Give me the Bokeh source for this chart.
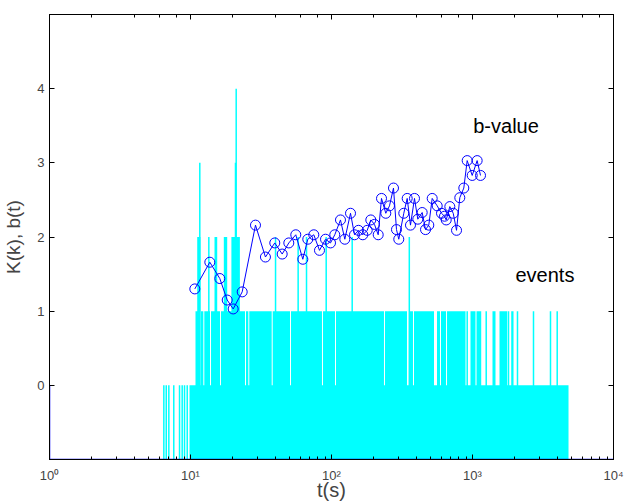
from bokeh.plotting import figure
from bokeh.models import LogAxis, LinearAxis, FixedTicker, LogTicker, CustomJSTickFormatter
from bokeh.core.properties import value
from bokeh.embed import file_html
from bokeh.resources import INLINE

# ---------------- data ----------------
# b-value series (time in s, b-value)
b_t = [10.73, 13.71, 16.14, 18.21, 20.08, 23.26, 28.9, 34.0, 39.6, 44.7,
       49.8, 55.8, 62.6, 67.9, 74.9, 82.2, 90.7, 98.4, 105.5, 115.8,
       124.3, 136.4, 145.6, 155.4, 166.7, 179.2, 190.0, 201.8, 214.4, 226.3,
       242.7, 257.8, 275.2, 289.0, 300.0,
       325.6, 344.2, 363.2, 387.8, 409.3, 439.7, 464.3, 489.8, 517.8, 561.9,
       602.7, 632.9, 651.0, 690.4, 729.9, 770.4, 812.7, 867.6, 916.7, 995.2,
       1079.0, 1139.8]
b_val = [1.30, 1.66, 1.44, 1.15, 1.03, 1.26, 2.16, 1.73, 1.92, 1.77,
         1.92, 2.03, 1.70, 1.97, 2.03, 1.82, 1.97, 1.92, 2.03, 2.23,
         1.97, 2.32, 2.03, 2.09, 2.03, 2.09, 2.23, 2.17, 2.03, 2.52,
         2.32, 2.42, 2.66, 2.10, 1.97,
         2.32, 2.52, 2.16, 2.52, 2.24, 2.33, 2.10, 2.16, 2.52, 2.42,
         2.32, 2.28, 2.23, 2.41, 2.32, 2.09, 2.53, 2.66, 3.03, 2.83,
         3.03, 2.83]

# events: densely packed runs of event lines (start time, end time, class K)
band_start = [9.84,
              10.85, 11.87, 12.53, 13.98, 16.45, 24.75, 26.12, 38.28, 51.62, 87.0,
              107.6, 239.5, 354.4, 384.6, 560.0, 597.8, 659.6, 967.8, 1068.0,
              1386.0, 1554.0, 1882.0,
              11.16, 14.80, 17.23, 19.5]
band_end = [4797.0,
            11.68, 12.33, 13.75, 16.19, 24.35, 25.70, 37.66, 50.78, 85.6, 105.9,
            235.6, 343.1, 378.4, 533.3, 588.2, 648.9, 892.2, 1050.0, 1153.0,
            1456.0, 1762.0, 1954.0,
            11.77, 15.47, 18.21, 22.4]
band_k = [0,
          1, 1, 1, 1, 1, 1, 1, 1, 1, 1,
          1, 1, 1, 1, 1, 1, 1, 1, 1,
          1, 1, 1,
          2, 2, 2, 2]

# events: isolated event lines (time, class K)
ev_t = [6.47, 6.73, 7.02, 7.61, 8.36, 8.73, 9.07, 9.48,
        917.1, 1251.0, 1800.0, 2085.0, 2708.0, 3574.0, 3988.0,
        13.49, 40.1, 58.0, 66.5, 91.7, 140.2, 356.3,
        11.64, 20.85,
        21.09]
ev_k = [0, 0, 0, 0, 0, 0, 0, 0,
        1, 1, 1, 1, 1, 1, 1,
        2, 2, 2, 2, 2, 2, 2,
        3, 3,
        4]

baseline = -1
# blue base trace
base_t = [1, 1, 10000]
base_k = [0, -1, -1]

label_t = [1012, 2018]
label_k = [3.49, 1.49]
label_text = ["b-value", "events"]

y_ticks = [0, 1, 2, 3, 4]

FONT = "Liberation Sans"

# ---------------- figure ----------------
p = figure(width=629, height=503, x_axis_type="log", x_range=(1, 10000), y_range=(-1, 5),
           output_backend="svg", toolbar_location=None,
           min_border_left=49, min_border_right=16, min_border_top=14, min_border_bottom=44)
p.background_fill_color = "white"
p.border_fill_color = "white"
p.grid.visible = False
p.outline_line_color = "black"
p.outline_line_width = 1
p.outline_line_alpha = 1

# events
p.quad(left=band_start, right=band_end, bottom=[baseline] * len(band_k), top=band_k,
       fill_color="#00ffff", line_color=None)
p.segment(x0=ev_t, y0=[baseline] * len(ev_k), x1=ev_t, y1=ev_k,
          line_color="#00ffff", line_width=1.5)

# base trace
p.line(base_t, base_k, line_color="#0000ff", line_width=1.5)

# b-value
p.line(b_t, b_val, line_color="#0000ff", line_width=1)
p.scatter(b_t, b_val, marker="circle", size=10, fill_color=None, line_color="#0000ff", line_width=1)

# labels
p.text(x=label_t, y=label_k, text=label_text, text_font=value(FONT), text_font_size="20px",
       text_color="black", text_baseline="alphabetic", text_align="left")

# axes
fmt = CustomJSTickFormatter(code="""
const s = ['\u2070','\u00b9','\u00b2','\u00b3','\u2074','\u2075'];
const e = Math.round(Math.log10(tick));
return '10' + ((e >= 0 && e < s.length) ? s[e] : ('^' + e));
""")

xa = p.xaxis[0]
xa.formatter = fmt
xa.axis_label = "t(s)"
xa.axis_label_text_font = FONT
xa.axis_label_text_font_style = "normal"
xa.axis_label_text_font_size = "20px"
xa.axis_label_standoff = -7
xa.major_label_text_font = FONT
xa.major_label_text_font_size = "13px"
xa.major_label_standoff = 8
xa.major_tick_in = 5
xa.major_tick_out = 0
xa.minor_tick_in = 3
xa.minor_tick_out = 0
xa.axis_line_color = "black"

ya = p.yaxis[0]
ya.ticker = FixedTicker(ticks=y_ticks)
ya.axis_label = "K(k), b(t)"
ya.axis_label_text_font = FONT
ya.axis_label_text_font_style = "normal"
ya.axis_label_text_font_size = "19px"
ya.axis_label_standoff = 10
ya.major_label_text_font = FONT
ya.major_label_text_font_size = "13px"
ya.major_label_standoff = 5
ya.major_tick_in = 5
ya.major_tick_out = 0
ya.minor_tick_line_color = None
ya.axis_line_color = "black"

top = LogAxis(ticker=LogTicker(), major_label_text_font_size="1px", major_label_text_alpha=0,
              major_tick_in=5, major_tick_out=0, minor_tick_in=3, minor_tick_out=0,
              major_label_standoff=0)
p.add_layout(top, "above")
right = LinearAxis(ticker=FixedTicker(ticks=y_ticks), major_label_text_font_size="1px",
                   major_label_text_alpha=0,
                   major_tick_in=5, major_tick_out=0, minor_tick_line_color=None,
                   major_label_standoff=0)
p.add_layout(right, "right")

open("out.html", "w", encoding="utf-8").write(file_html(p, INLINE))
